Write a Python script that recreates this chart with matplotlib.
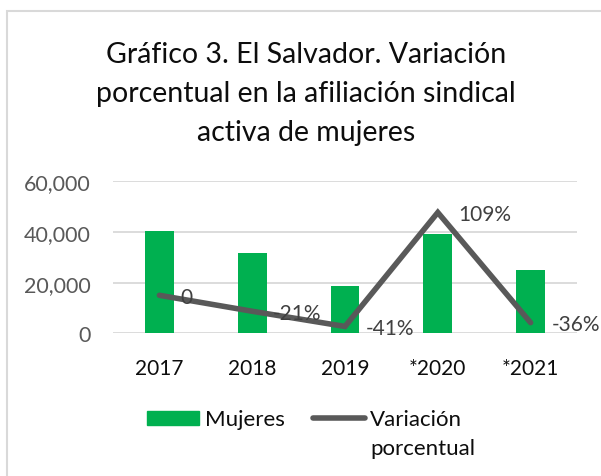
import matplotlib
matplotlib.use("Agg")
import matplotlib.pyplot as plt
from matplotlib.patches import Rectangle
from matplotlib.lines import Line2D

plt.rcParams["font.family"] = ["Lato", "DejaVu Sans"]

years = ["2017", "2018", "2019", "*2020", "*2021"]
mujeres = [40200, 31600, 18700, 39200, 25000]
variacion = [0.0, -0.21, -0.41, 1.09, -0.36]
var_labels = ["0", "-21%", "-41%", "109%", "-36%"]
title_lines = ["Gráfico 3. El Salvador. Variación",
               "porcentual en la afiliación sindical",
               "activa de mujeres"]

GREEN = "#00b050"
LINE = "#595959"
GRID = "#d9d9d9"

W, H = 601, 477
fig = plt.figure(figsize=(W / 100, H / 100), dpi=100)

# chart frame
fig.patches.append(Rectangle((7 / W, -0.1), 1.2, (H - 11.5) / H + 0.1,
                             transform=fig.transFigure, fill=False,
                             edgecolor=GRID, linewidth=1.5))

for i, line in enumerate(title_lines):
    fig.text(306 / W, 1 - (63 + 39 * i) / H, line, ha="center", va="baseline",
             fontsize=20.5, color="#0d0d0d")

ax = fig.add_axes([113 / W, 1 - 334.3 / H, 464 / W, 152 / H])
x = list(range(len(years)))
ax.bar(x, mujeres, width=0.31, color=GREEN, zorder=2)
ax.set_xlim(-0.5, len(years) - 0.5)
ax.set_ylim(0, 60000)
ax.set_yticks([0, 20000, 40000, 60000])
ax.set_yticklabels([f"{v:,}" for v in [0, 20000, 40000, 60000]])
ax.set_xticks(x)
ax.set_xticklabels(years)
ax.grid(axis="y", color=GRID, linewidth=1.3, zorder=0)
ax.tick_params(axis="y", length=0, pad=16, labelsize=15.5, labelcolor="#595959")
ax.tick_params(axis="x", length=0, pad=18, labelsize=15, labelcolor="#0d0d0d")
for s in ax.spines.values():
    s.set_visible(False)

ax2 = ax.twinx()
ax2.set_ylim(-0.5, 1.5)
ax2.plot(x, variacion, color=LINE, linewidth=4, solid_capstyle="round",
         solid_joinstyle="miter", zorder=3)
ax2.set_yticks([])
for s in ax2.spines.values():
    s.set_visible(False)
for xi, v, lab in zip(x, variacion, var_labels):
    ax2.annotate(lab, (xi, v), xytext=(15, -1), textcoords="offset points",
                 ha="left", va="center", fontsize=15, color="#404040")

# legend
fig.patches.append(Rectangle((147 / W, 1 - 426 / H), 52 / W, 14 / H,
                             transform=fig.transFigure, color=GREEN))
fig.lines.append(Line2D([313 / W, 365 / W], [1 - 419 / H, 1 - 419 / H],
                        transform=fig.transFigure, color=LINE, linewidth=4,
                        solid_capstyle="round"))
fig.text(205 / W, 1 - 420 / H, "Mujeres", ha="left", va="center",
         fontsize=16, color="#0d0d0d")
fig.text(370 / W, 1 - 420 / H, "Variación", ha="left", va="center",
         fontsize=16, color="#0d0d0d")
fig.text(370 / W, 1 - 449 / H, "porcentual", ha="left", va="center",
         fontsize=16, color="#0d0d0d")

fig.savefig("out.png", dpi=100)
